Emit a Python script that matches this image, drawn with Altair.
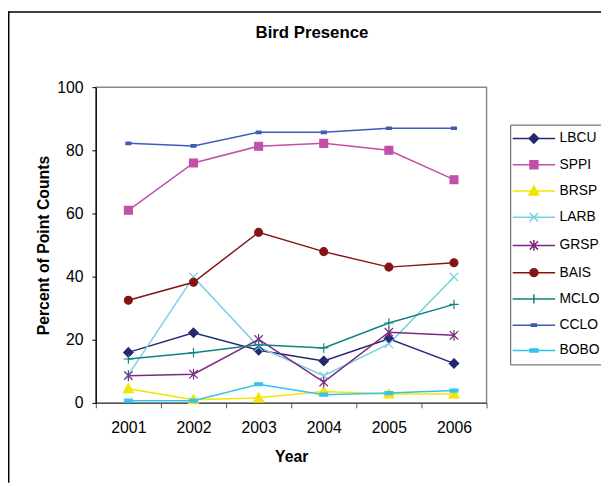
import altair as alt
import pandas as pd

# ---------------- data ----------------
years = ["2001", "2002", "2003", "2004", "2005", "2006"]
series = ["LBCU", "SPPI", "BRSP", "LARB", "GRSP", "BAIS", "MCLO", "CCLO", "BOBO"]

LBCU = [16.0, 22.2, 16.7, 13.3, 20.3, 12.5]
SPPI = [61.0, 76.0, 81.3, 82.2, 80.0, 70.7]
BRSP = [4.5, 1.0, 1.6, 3.6, 2.8, 2.8]
LARB = [8.9, 39.9, 17.7, 8.6, 18.7, 39.9]
GRSP = [8.6, 9.1, 20.1, 6.6, 22.4, 21.4]
BAIS = [32.5, 38.2, 54.0, 47.9, 43.0, 44.4]
MCLO = [13.9, 15.9, 18.4, 17.4, 25.3, 31.2]
CCLO = [82.2, 81.4, 85.7, 85.7, 87.0, 87.0]
BOBO = [0.7, 0.7, 5.9, 2.6, 3.1, 3.9]

values = {"LBCU": LBCU, "SPPI": SPPI, "BRSP": BRSP, "LARB": LARB, "GRSP": GRSP,
          "BAIS": BAIS, "MCLO": MCLO, "CCLO": CCLO, "BOBO": BOBO}

# ---------------- style ----------------
colors = ["#25286f", "#c24faa", "#f2e600", "#79cfe3", "#7a2a80",
          "#851515", "#108480", "#3f5bb5", "#35c3ee"]

markers = {
    "LBCU": "M0,-0.95L0.95,0L0,0.95L-0.95,0Z",
    "SPPI": "M-0.8,-0.8H0.8V0.8H-0.8Z",
    "BRSP": "M0,-1L1,0.8H-1Z",
    "LARB": "M-0.85,-0.85L0.85,0.85M-0.85,0.85L0.85,-0.85",
    "GRSP": "M-0.85,-0.85L0.85,0.85M-0.85,0.85L0.85,-0.85M0,-1.1V1.1",
    "BAIS": "M-0.8,0A0.8,0.8,0,1,0,0.8,0A0.8,0.8,0,1,0,-0.8,0Z",
    "MCLO": "M-0.95,0H0.95M0,-0.95V0.95",
    "CCLO": "M-0.5,-0.25H0.5V0.25H-0.5Z",
    "BOBO": "M-0.8,-0.3H0.8V0.3H-0.8Z",
}
legend_paths = ["M-4.3,0H4.3" + markers[s] for s in series]

FONT = "Liberation Sans"

rows = []
for s in series:
    for yr, v in zip(years, values[s]):
        rows.append({"series": s, "year": yr, "value": v, "marker": markers[s]})
df = pd.DataFrame(rows)

x = alt.X("year:O", scale=alt.Scale(type="band", paddingInner=0, paddingOuter=0),
          axis=alt.Axis(title="Year", tickBand="extent", labelAngle=0, tickSize=5,
                        labelPadding=12, titlePadding=13, domainColor="#555555",
                        tickColor="#555555"))
y = alt.Y("value:Q", scale=alt.Scale(domain=[0, 100]),
          axis=alt.Axis(title="Percent of Point Counts", values=[0, 20, 40, 60, 80, 100],
                        grid=False, tickSize=4, labelPadding=9, titlePadding=5,
                        domainColor="black", tickColor="black"))

color_scale = alt.Scale(domain=series, range=colors)

# legend-only layer (no marks drawn), placed first so its legend settings win
leg = alt.Chart(df).transform_filter("false").mark_point(
    filled=True, size=100, opacity=1, strokeWidth=1.5).encode(
    x=x, y=y,
    color=alt.Color("series:N", scale=color_scale, legend=alt.Legend(title=None)),
    stroke=alt.Stroke("series:N", scale=color_scale, legend=alt.Legend(title=None)),
    shape=alt.Shape("series:N", scale=alt.Scale(domain=series, range=legend_paths),
                    legend=alt.Legend(title=None)),
)

lines = alt.Chart(df).mark_line(strokeWidth=1.5).encode(
    x=x, y=y,
    color=alt.Color("series:N", scale=color_scale, legend=None),
)

pts = alt.Chart(df).mark_point(filled=True, size=100, opacity=1, strokeWidth=1.2).encode(
    x=x, y=y,
    color=alt.Color("series:N", scale=color_scale, legend=None),
    stroke=alt.Stroke("series:N", scale=color_scale, legend=None),
    shape=alt.Shape("marker:N", scale=None),
)

frame_data = alt.Data(values=[{"k": 0}])
top_rule = alt.Chart(frame_data).mark_rule(color="black", strokeWidth=1.5).encode(
    x=alt.value(-89), x2=alt.value(512), y=alt.value(-76.25))
left_rule = alt.Chart(frame_data).mark_rule(color="black", strokeWidth=1.5).encode(
    x=alt.value(-88.25), y=alt.value(-77), y2=alt.value(401))

chart = alt.layer(leg, lines, pts, top_rule, left_rule).properties(
    width=396, height=320,
    title=alt.Title("Bird Presence", fontSize=17, fontWeight="bold", font=FONT,
                    anchor="middle", dx=21, offset=0, dy=49, color="black",
                    baseline="bottom"),
    autosize=alt.AutoSizeParams(type="none"),
    padding={"left": 89, "top": 77, "right": 116, "bottom": 81},
).configure_view(
    stroke="#8a8a8a", strokeWidth=1.5
).configure_axis(
    labelFont=FONT, titleFont=FONT, labelFontSize=16, titleFontSize=16,
    labelColor="black", titleColor="black", titleFontWeight="bold", domainWidth=1.2
).configure_legend(
    orient="none", legendX=420, legendY=38, padding=7, rowPadding=11.6,
    symbolSize=100, symbolStrokeWidth=1.5, symbolOffset=10, labelOffset=19,
    labelFont=FONT, labelFontSize=14, labelColor="black",
    strokeColor="#555555", fillColor="white", cornerRadius=0, symbolOpacity=1,
)

chart.save("out.html", embed_options={"renderer": "svg", "actions": False})
